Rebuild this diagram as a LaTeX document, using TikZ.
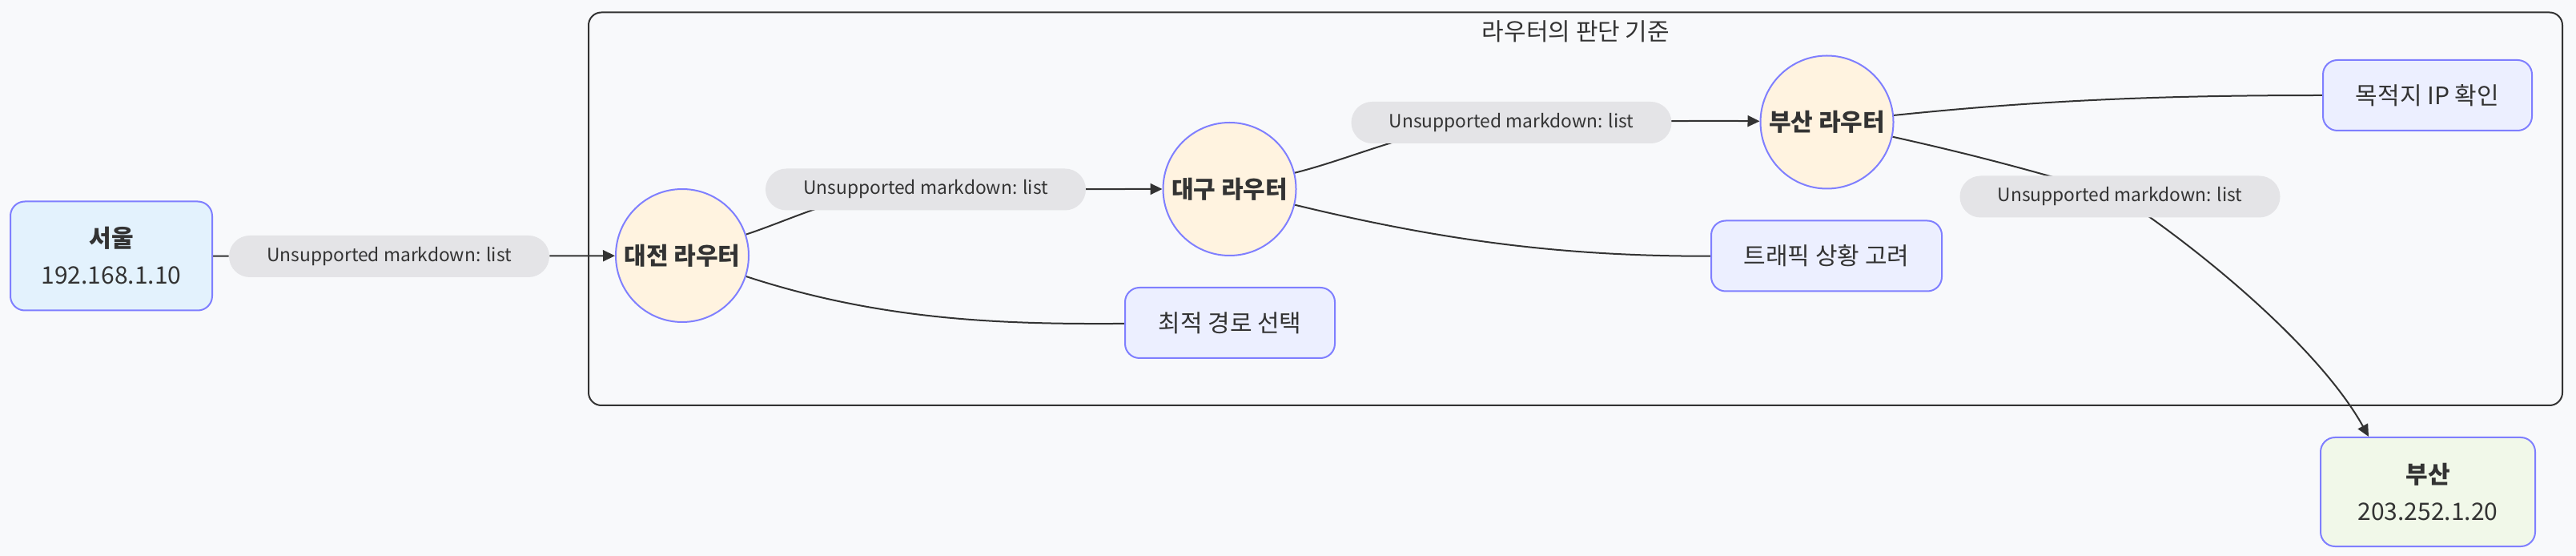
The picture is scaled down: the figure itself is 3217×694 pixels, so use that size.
\documentclass[tikz,border=0pt]{standalone}
\usepackage{fontspec}
\setmainfont{Noto Sans CJK KR}
\usetikzlibrary{positioning, arrows.meta, backgrounds}
\definecolor{bgpage}{HTML}{F8F9FB}
\definecolor{nodeline}{HTML}{7F7FFF}
\definecolor{seoulfill}{HTML}{E3F2FD}
\definecolor{routerfill}{HTML}{FFF3E0}
\definecolor{notefill}{HTML}{ECEFFF}
\definecolor{busanfill}{HTML}{F1F8E9}
\definecolor{pillfill}{HTML}{E4E4E7}
\definecolor{inkgray}{HTML}{333333}

\begin{document}
\begin{tikzpicture}[x=0.5pt, y=-0.5pt,
    host/.style={draw=nodeline, line width=1pt, rounded corners=9pt, minimum width=126pt, minimum height=68pt, align=center, text=inkgray, font=\fontsize{15}{23}\selectfont},
    router/.style={circle, draw=nodeline, line width=1pt, fill=routerfill, minimum size=83pt, inner sep=0pt, text=inkgray, font=\fontsize{15}{17}\selectfont\bfseries},
    note/.style={draw=nodeline, line width=1pt, rounded corners=9pt, fill=notefill, minimum height=44pt, text=inkgray, font=\fontsize{15}{17}\selectfont},
    pill/.style={fill=pillfill, rounded corners=13pt, minimum width=200pt, minimum height=26pt, text=inkgray, font=\fontsize{11.4}{14}\selectfont},
    link/.style={draw=inkgray, line width=1pt},
    arrowed/.style={-{Triangle[length=7.5pt,width=7pt]}}
  ]
    \useasboundingbox (0,0) rectangle (3217,694);
    \node[host, fill=seoulfill] (seoul) at (139,319.5) {\textbf{서울}\\192.168.1.10};
    \node[pill] (lA) at (486,320) {Unsupported markdown: list};
    \node[router] (daejeon) at (852,319) {대전 라우터};
    \node[pill] (lB) at (1156,236.5) {Unsupported markdown: list};
    \node[router] (daegu) at (1535.5,236) {대구 라우터};
    \node[note, minimum width=131pt] (best) at (1536,403) {최적 경로 선택};
    \node[pill] (lC) at (1887.5,153) {Unsupported markdown: list};
    \node[router] (bsrouter) at (2281.5,152.5) {부산 라우터};
    \node[note, minimum width=144pt] (traffic) at (2281,319.5) {트래픽 상황 고려};
    \node[note, minimum width=130.5pt] (dest) at (3031.5,119) {목적지 IP 확인};
    \node[pill] (lD) at (2647.5,245.5) {Unsupported markdown: list};
    \node[host, fill=busanfill, minimum width=134pt] (busan) at (3032,614) {\textbf{부산}\\203.252.1.20};
    \node[text=inkgray, font=\fontsize{15}{17}\selectfont] (title) at (1968,39) {라우터의 판단 기준};
    \begin{scope}[on background layer]
      \fill[bgpage] (0,0) rectangle (3217,694);
      \draw[inkgray, line width=1pt, rounded corners=8pt] (735,15.5) rectangle (3200,506);
      \draw[link, arrowed] (seoul) -- (lA) -- (daejeon);
      \draw[link, arrowed] (daejeon) .. controls (1000,270) and (1060,236) .. (lB.center) .. controls (1300,236) and (1400,236) .. (daegu);
      \draw[link] (daejeon) .. controls (1100,400) and (1250,405) .. (best);
      \draw[link, arrowed] (daegu) .. controls (1700,195) and (1780,153) .. (lC.center) .. controls (2000,153) and (2100,150) .. (bsrouter);
      \draw[link] (daegu) .. controls (1800,300) and (1950,320) .. (traffic);
      \draw[link] (bsrouter) .. controls (2550,125) and (2700,119) .. (dest);
      \draw[link, arrowed] (bsrouter) .. controls (2450,190) and (2530,210) .. (lD.center) .. controls (2760,320) and (2900,440) .. (busan.137);
    \end{scope}
  \end{tikzpicture}
\end{document}
